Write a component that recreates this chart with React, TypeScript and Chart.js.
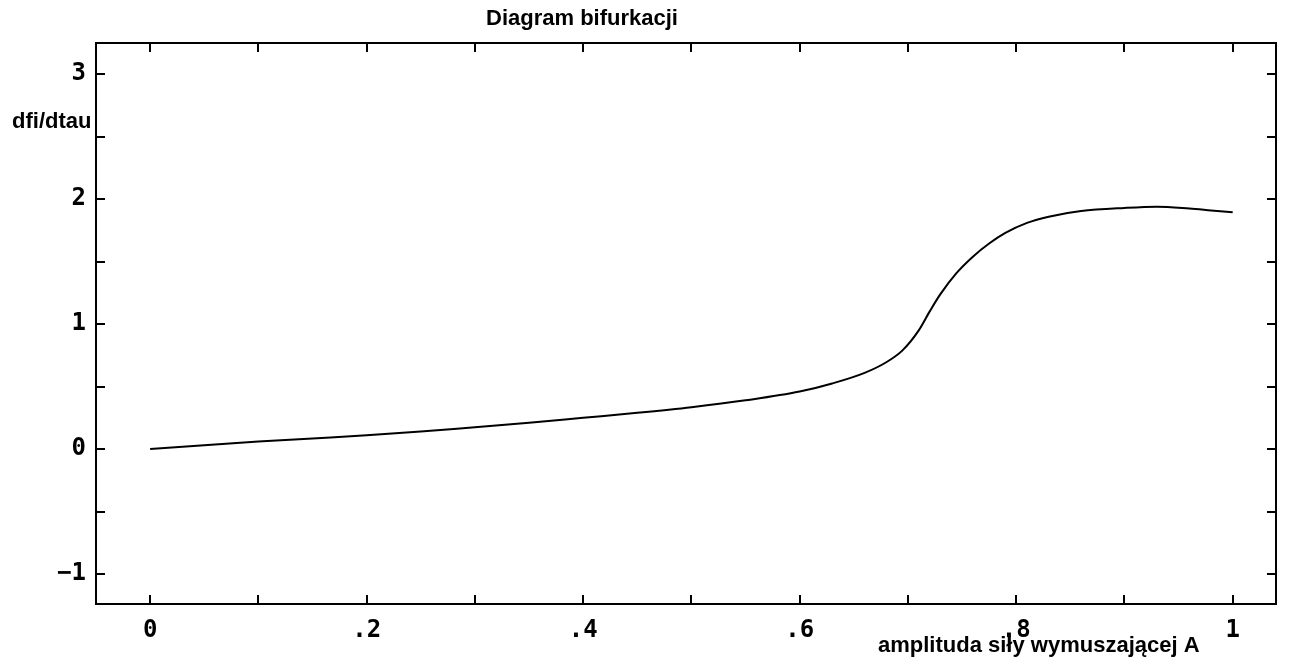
import React, { useEffect, useRef } from "react";
import { Chart, registerables } from "chart.js";
Chart.register(...registerables);

const amplitudes = [0, 0.05, 0.1, 0.15, 0.2, 0.25, 0.3, 0.35, 0.4, 0.45, 0.5, 0.55, 0.6, 0.63, 0.66, 0.68, 0.695, 0.71, 0.72, 0.73, 0.745, 0.76, 0.775, 0.79, 0.81, 0.83, 0.86, 0.9, 0.93, 0.96, 0.98, 1.0];
const dfiValues = [0, 0.03, 0.06, 0.085, 0.11, 0.14, 0.175, 0.21, 0.25, 0.29, 0.335, 0.39, 0.46, 0.525, 0.61, 0.695, 0.79, 0.95, 1.1, 1.24, 1.41, 1.54, 1.645, 1.73, 1.81, 1.86, 1.905, 1.93, 1.94, 1.925, 1.91, 1.895];

const xTickLabelValues = [0, 0.2, 0.4, 0.6, 0.8, 1];
const xTickLabels = ["0", ".2", ".4", ".6", ".8", "1"];
const xTickMarks = [0, 0.1, 0.2, 0.3, 0.4, 0.5, 0.6, 0.7, 0.8, 0.9, 1.0];
const yTickLabelValues = [-1, 0, 1, 2, 3];
const yTickLabels = ["\u22121", "0", "1", "2", "3"];
const yTickMarks = [-1, -0.5, 0, 0.5, 1, 1.5, 2, 2.5, 3];

const titleText = "Diagram bifurkacji";
const yTitleText = "dfi/dtau";
const xTitleText = "amplituda siły wymuszającej A";

const framePlugin = {
  id: "frame",
  afterDraw(chart: any) {
    const { ctx, chartArea } = chart;
    const { left, right, top, bottom } = chartArea;
    const xs = chart.scales.x;
    const ys = chart.scales.y;
    ctx.save();
    ctx.strokeStyle = "#000";
    ctx.lineWidth = 2;
    ctx.strokeRect(left, top, right - left, bottom - top);
    const tl = 9;
    ctx.beginPath();
    xTickMarks.forEach((v) => {
      const px = Math.round(xs.getPixelForValue(v));
      ctx.moveTo(px, bottom);
      ctx.lineTo(px, bottom - tl);
      ctx.moveTo(px, top);
      ctx.lineTo(px, top + tl);
    });
    yTickMarks.forEach((v) => {
      const py = Math.round(ys.getPixelForValue(v));
      ctx.moveTo(left, py);
      ctx.lineTo(left + tl, py);
      ctx.moveTo(right, py);
      ctx.lineTo(right - tl, py);
    });
    ctx.stroke();
    ctx.fillStyle = "#000";
    ctx.textBaseline = "middle";
    ctx.font = "bold 22px 'Liberation Sans', Arial, sans-serif";
    ctx.textAlign = "center";
    ctx.fillText(titleText, 582, 19);
    ctx.textAlign = "left";
    ctx.font = "bold 22px 'Liberation Sans', Arial, sans-serif";
    ctx.fillText(yTitleText, 12, 122);
    ctx.fillText(xTitleText, 878, 646);
    ctx.restore();
  },
};

export default function App() {
  const ref = useRef<HTMLCanvasElement | null>(null);
  useEffect(() => {
    if (!ref.current) return;
    const tickFont = { family: "'DejaVu Sans Mono', monospace", size: 24, weight: "bold" as const };
    const chart = new Chart(ref.current, {
      type: "line",
      data: {
        datasets: [
          {
            data: amplitudes.map((a, i) => ({ x: a, y: dfiValues[i] })),
            borderColor: "#000",
            borderWidth: 2,
            pointRadius: 0,
            cubicInterpolationMode: "monotone",
            fill: false,
          },
        ],
      },
      options: {
        animation: false,
        responsive: false,
        layout: { padding: { top: 43, right: 15, left: 0, bottom: 0 } },
        plugins: { legend: { display: false }, title: { display: false }, tooltip: { enabled: false } },
        scales: {
          x: {
            type: "linear",
            min: -0.05,
            max: 1.04,
            grid: { display: false, drawTicks: false },
            border: { display: false },
            afterBuildTicks: (s: any) => {
              s.ticks = xTickLabelValues.map((v) => ({ value: v }));
            },
            afterFit: (s: any) => {
              s.height = 60;
            },
            ticks: {
              color: "#000",
              font: tickFont,
              padding: 12,
              maxRotation: 0,
              autoSkip: false,
              callback: (v: any) => {
                const i = xTickLabelValues.findIndex((t) => Math.abs(t - Number(v)) < 1e-6);
                return i >= 0 ? xTickLabels[i] : null;
              },
            },
          },
          y: {
            type: "linear",
            min: -1.24,
            max: 3.25,
            grid: { display: false, drawTicks: false },
            border: { display: false },
            afterBuildTicks: (s: any) => {
              s.ticks = yTickLabelValues.map((v) => ({ value: v }));
            },
            afterFit: (s: any) => {
              s.width = 96;
            },
            ticks: {
              color: "#000",
              font: tickFont,
              padding: 10,
              autoSkip: false,
              callback: (v: any) => {
                const i = yTickLabelValues.findIndex((t) => Math.abs(t - Number(v)) < 1e-6);
                return i >= 0 ? yTickLabels[i] : null;
              },
            },
          },
        },
      },
      plugins: [framePlugin],
    });
    return () => chart.destroy();
  }, []);
  return (
    <div style={{ position: "fixed", left: 0, top: 0, width: 1291, height: 664, background: "#fff" }}>
      <canvas ref={ref} width={1291} height={664} style={{ display: "block" }} />
    </div>
  );
}
